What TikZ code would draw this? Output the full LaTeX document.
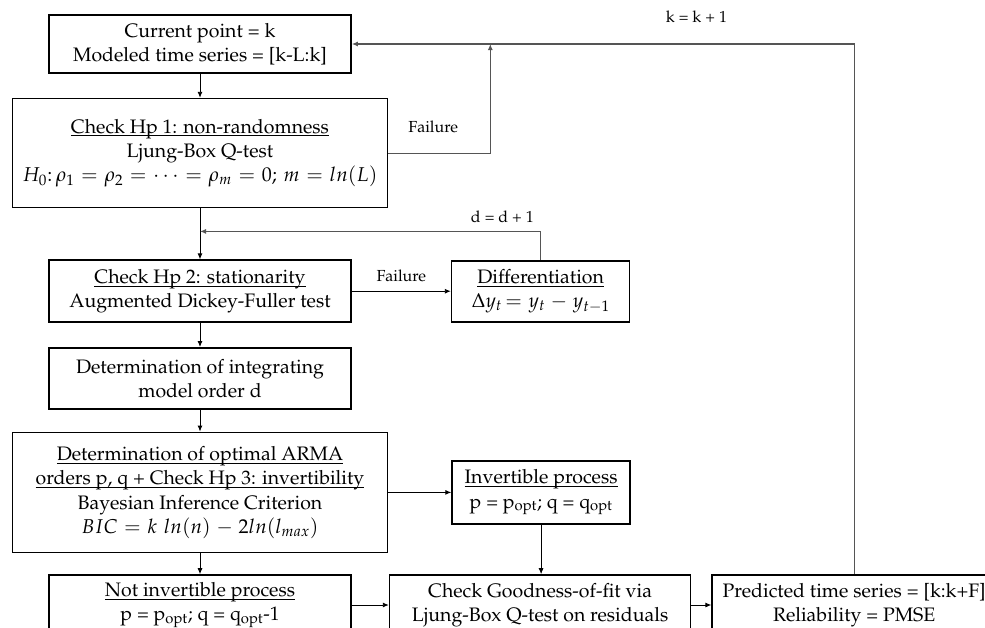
\documentclass[tikz,border=0pt]{standalone}
\usepackage[T1]{fontenc}
\usepackage{mathpazo}
\usepackage{xcolor}
\usetikzlibrary{arrows.meta,positioning}
\definecolor{loopcolor}{HTML}{555555}
\newcommand{\hdline}[1]{\underline{\smash{#1}}\vphantom{#1}}
\newcommand{\eqline}[1]{{\fontsize{20}{24.3}\selectfont\thickmuskip=6mu plus 2mu\medmuskip=5mu plus 2mu$#1$}}
\tikzset{
    stepbox/.style={
        shape=rectangle,
        draw=black,
        line width=1.6pt,
        align=center,
        minimum width=302pt,
        inner sep=4pt,
        font=\fontsize{19.5}{24.3}\selectfont
    },
    widebox/.style={
        stepbox,
        minimum width=375pt
    },
    sidebox/.style={
        stepbox,
        minimum width=178pt
    },
    transition/.style={
        ->,
        >={Latex[length=6pt,width=5pt]},
        line width=0.9pt
    },
    feedback/.style={
        transition,
        draw=loopcolor,
        line width=1.2pt
    },
    note/.style={
        font=\fontsize{16}{18}\selectfont
    }
}
\begin{document}
\begin{tikzpicture}
    \clip (0,0) rectangle (985pt,-627pt);
    
    \node[stepbox, minimum height=58pt] (cur) at (200pt,-44pt) {Current point = k\\Modeled time series = [k-L:k]};
    \node[widebox, minimum height=109pt, below=24pt of cur] (hp1) {\hdline{Check Hp 1: non-randomness}\\Ljung-Box Q-test\\\eqline{H_0{:}\,\rho_1=\rho_2=\cdots=\rho_m=0;\, m=ln(L)}};
    \node[stepbox, minimum height=62pt, below=51pt of hp1] (hp2) {\hdline{Check Hp 2: stationarity}\\Augmented Dickey-Fuller test};
    \node[sidebox, minimum height=61pt, right=99pt of hp2] (diff) {\hdline{Differentiation}\\\eqline{\Delta y_t\!= y_t - y_{t-1}}};
    \node[stepbox, minimum height=61pt, below=24pt of hp2] (integ) {Determination of integrating\\model order d};
    \node[widebox, minimum height=120pt, below=22pt of integ] (arma) {\hdline{Determination of optimal ARMA}\\\hdline{orders p, q + Check Hp 3: invertibility}\\Bayesian Inference Criterion\\\eqline{BIC = k\;ln(n) - 2ln(l_{max})}};
    \node[sidebox, minimum height=63pt, right=63pt of arma] (inv) {\hdline{Invertible process}\\p = p\textsubscript{opt}; q = q\textsubscript{opt}};
    \node[stepbox, minimum height=60pt, below=21pt of arma] (notinv) {\hdline{Not invertible process}\\p = p\textsubscript{opt}; q = q\textsubscript{opt}-1};
    \node[stepbox, minimum width=301pt, minimum height=60pt, right=37pt of notinv] (good) {Check Goodness-of-fit via\\Ljung-Box Q-test on residuals};
    \node[stepbox, minimum width=284pt, minimum height=60pt, right=20pt of good] (pred) {Predicted time series = [k:k+F]\\Reliability = PMSE};
    
    \coordinate[right=102pt of hp1] (fail1);
    \coordinate[below=23pt of hp1] (merge);
    
    \begin{scope} % main flow
    	\draw[transition] 
    	(cur) 
    	to 
    	(hp1);
    	
    	\draw[transition] 
    	(hp1) 
    	to 
    	(hp2);
    	
    	\draw[transition] 
    	(hp2) 
    	to node[midway, above=6pt, note] {Failure} 
    	(diff);
    	
    	\draw[transition] 
    	(hp2) 
    	to 
    	(integ);
    	
    	\draw[transition] 
    	(integ) 
    	to 
    	(arma);
    	
    	\draw[transition] 
    	(arma.east |- inv.west) 
    	to 
    	(inv.west);
    	
    	\draw[transition] 
    	(arma) 
    	to 
    	(notinv);
    	
    	\draw[transition] 
    	(inv.south) 
    	to 
    	(inv.south |- good.north);
    	
    	\draw[transition] 
    	(notinv) 
    	to 
    	(good);
    	
    	\draw[transition] 
    	(good) 
    	to 
    	(pred);
    \end{scope}
    \begin{scope} % loops
    	\draw[feedback] 
    	(hp1.east) 
    	-- node[pos=0.44, above=16pt, note, text=black] {Failure} 
    	(fail1) 
    	-- 
    	(fail1 |- cur.east);
    	
    	\draw[feedback] 
    	(diff.north) 
    	|- node[pos=0.556, above=5pt, note, text=black] {d = d + 1} 
    	(merge);
    	
    	\draw[feedback] 
    	(pred.north) 
    	|- node[pos=0.657, above=18pt, note, text=black] {k = k + 1} 
    	(cur.east);
    \end{scope}
\end{tikzpicture}
\end{document}
